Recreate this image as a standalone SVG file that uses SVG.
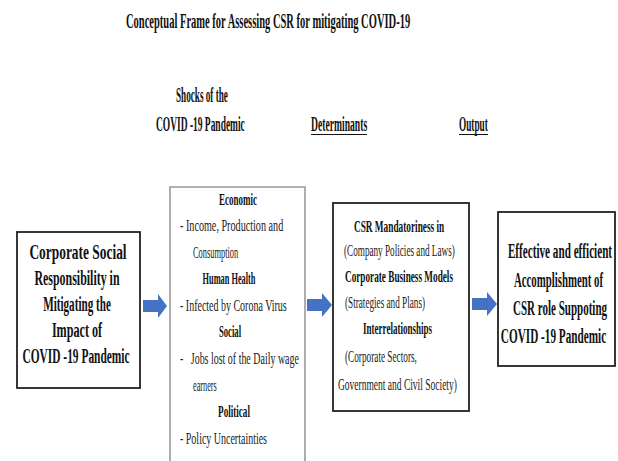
<svg xmlns="http://www.w3.org/2000/svg" width="618" height="461" viewBox="0 0 618 461">
<style>
.b{font-family:"Liberation Serif","Times New Roman",serif;font-weight:bold;fill:#111}
.r{font-family:"Liberation Serif","Times New Roman",serif;font-weight:normal;fill:#222}
.box{fill:#fff;stroke:#222;stroke-width:1.8}
.arrow{fill:#4472C4}
.m{text-anchor:middle}
</style>
<rect width="618" height="461" fill="#fff"/>
<g id="title">
<text class="b" transform="translate(126,28) scale(0.48,1)" font-size="22" textLength="592" lengthAdjust="spacingAndGlyphs">Conceptual Frame for Assessing CSR for mitigating COVID-19</text>
</g>
<g id="headers">
<text class="b" transform="translate(176,102) scale(0.48,1)" font-size="20" textLength="108" lengthAdjust="spacingAndGlyphs">Shocks of the</text>
<text class="b" transform="translate(156,131) scale(0.48,1)" font-size="20" textLength="185" lengthAdjust="spacingAndGlyphs">COVID -19 Pandemic</text>
<text class="b" transform="translate(311,131) scale(0.48,1)" font-size="20" textLength="117" lengthAdjust="spacingAndGlyphs">Determinants</text>
<line x1="311" y1="134.5" x2="367" y2="134.5" stroke="#111" stroke-width="1"/>
<text class="b" transform="translate(459,131) scale(0.48,1)" font-size="20" textLength="60" lengthAdjust="spacingAndGlyphs">Output</text>
<line x1="459" y1="134.5" x2="488" y2="134.5" stroke="#111" stroke-width="1"/>
</g>
<g id="node-csr">
<rect class="box" x="17" y="232" width="123" height="156"/>
<text class="b m" transform="translate(78,259) scale(0.67,1)" font-size="20" textLength="145" lengthAdjust="spacingAndGlyphs">Corporate Social</text>
<text class="b m" transform="translate(77,285) scale(0.67,1)" font-size="20" textLength="127" lengthAdjust="spacingAndGlyphs">Responsibility in</text>
<text class="b m" transform="translate(77,311) scale(0.67,1)" font-size="20" textLength="101" lengthAdjust="spacingAndGlyphs">Mitigating the</text>
<text class="b m" transform="translate(77,337) scale(0.67,1)" font-size="20" textLength="75" lengthAdjust="spacingAndGlyphs">Impact of</text>
<text class="b m" transform="translate(76,363) scale(0.67,1)" font-size="20" textLength="160" lengthAdjust="spacingAndGlyphs">COVID -19 Pandemic</text>
</g>
<g id="node-shocks">
<path d="M170,462 V187 H305 V462" fill="#fff" stroke="#999" stroke-width="1.6"/>
<text class="b m" transform="translate(238,205) scale(0.54,1)" font-size="17" textLength="70" lengthAdjust="spacingAndGlyphs">Economic</text>
<text class="r" transform="translate(180,231) scale(0.58,1)" font-size="17.5" textLength="178" lengthAdjust="spacingAndGlyphs">- Income, Production and</text>
<text class="r" transform="translate(193,258) scale(0.58,1)" font-size="17.5" textLength="78" lengthAdjust="spacingAndGlyphs">Consumption</text>
<text class="b m" transform="translate(229,284) scale(0.54,1)" font-size="17" textLength="98" lengthAdjust="spacingAndGlyphs">Human Health</text>
<text class="r" transform="translate(180,311) scale(0.58,1)" font-size="17.5" textLength="184" lengthAdjust="spacingAndGlyphs">- Infected by Corona Virus</text>
<text class="b m" transform="translate(230,337) scale(0.54,1)" font-size="17" textLength="41" lengthAdjust="spacingAndGlyphs">Social</text>
<text class="r" transform="translate(180,364) scale(0.58,1)" font-size="17.5" textLength="205" lengthAdjust="spacingAndGlyphs" style="white-space:pre">-   Jobs lost of the Daily wage</text>
<text class="r" transform="translate(193,391) scale(0.58,1)" font-size="17.5" textLength="41" lengthAdjust="spacingAndGlyphs">earners</text>
<text class="b m" transform="translate(234,417) scale(0.54,1)" font-size="17" textLength="59" lengthAdjust="spacingAndGlyphs">Political</text>
<text class="r" transform="translate(180,444) scale(0.58,1)" font-size="17.5" textLength="150" lengthAdjust="spacingAndGlyphs">- Policy Uncertainties</text>
</g>
<g id="node-determinants">
<rect class="box" x="333" y="203" width="136" height="208"/>
<text class="b" transform="translate(354,232) scale(0.54,1)" font-size="17" textLength="167" lengthAdjust="spacingAndGlyphs">CSR Mandatoriness in</text>
<text class="r" transform="translate(344,256) scale(0.58,1)" font-size="17.5" textLength="191" lengthAdjust="spacingAndGlyphs">(Company Policies and Laws)</text>
<text class="b" transform="translate(345,282) scale(0.54,1)" font-size="17" textLength="200" lengthAdjust="spacingAndGlyphs">Corporate Business Models</text>
<text class="r" transform="translate(345,308) scale(0.58,1)" font-size="17.5" textLength="138" lengthAdjust="spacingAndGlyphs">(Strategies and Plans)</text>
<text class="b" transform="translate(363,334) scale(0.54,1)" font-size="17" textLength="128" lengthAdjust="spacingAndGlyphs">Interrelationships</text>
<text class="r" transform="translate(345,362) scale(0.58,1)" font-size="17.5" textLength="124" lengthAdjust="spacingAndGlyphs">(Corporate Sectors,</text>
<text class="r" transform="translate(338,390) scale(0.58,1)" font-size="17.5" textLength="205" lengthAdjust="spacingAndGlyphs">Government and Civil Society)</text>
</g>
<g id="node-output">
<rect class="box" x="498" y="212" width="117" height="154"/>
<text class="b m" transform="translate(560,258) scale(0.56,1)" font-size="20" textLength="186" lengthAdjust="spacingAndGlyphs">Effective and efficient</text>
<text class="b m" transform="translate(558.5,287) scale(0.56,1)" font-size="20" textLength="159" lengthAdjust="spacingAndGlyphs">Accomplishment of</text>
<text class="b m" transform="translate(560,315) scale(0.56,1)" font-size="20" textLength="168" lengthAdjust="spacingAndGlyphs">CSR role Suppoting</text>
<text class="b m" transform="translate(553.5,343) scale(0.56,1)" font-size="20" textLength="188" lengthAdjust="spacingAndGlyphs">COVID -19 Pandemic</text>
</g>
<g id="connectors">
<path class="arrow" d="M143,300 H158 V294 L167,306 L158,318 V312 H143 Z"/>
<path class="arrow" d="M307,299 H322 V293 L332,305 L322,317 V311 H307 Z"/>
<path class="arrow" d="M472,298 H487 V292 L497,304 L487,316 V310 H472 Z"/>
</g>
</svg>
